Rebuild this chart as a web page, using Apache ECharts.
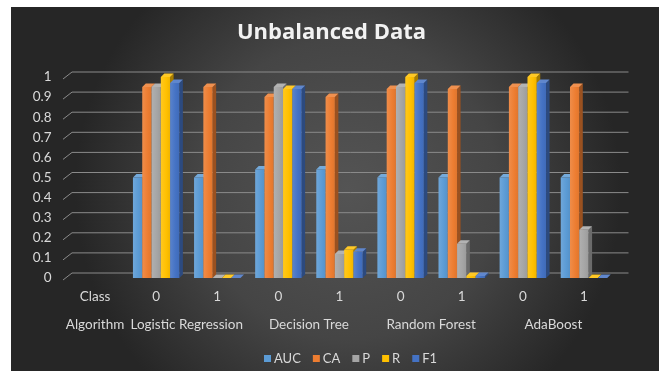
<!DOCTYPE html>
<html>
<head>
<meta charset="utf-8">
<script src="https://cdn.jsdelivr.net/npm/echarts@6/dist/echarts.min.js"></script>
<style>
  html, body { margin: 0; padding: 0; background: #ffffff; }
  #chart { width: 663px; height: 374px; }
</style>
</head>
<body>
<div id="chart"></div>
<script>
// Category rows of the axis
const classLabels = ['Class', '0', '1', '0', '1', '0', '1', '0', '1'];
const algorithmLabels = ['Algorithm', 'Logistic Regression', 'Decision Tree', 'Random Forest', 'AdaBoost'];

// Metric values per category (first slot is the header column, no bars)
const seriesNames = ['AUC', 'CA', 'P', 'R', 'F1'];
const aucValues = [null, 0.50, 0.50, 0.54, 0.54, 0.50, 0.50, 0.50, 0.50];
const caValues  = [null, 0.95, 0.95, 0.90, 0.90, 0.94, 0.94, 0.95, 0.95];
const pValues   = [null, 0.95, 0.00, 0.95, 0.12, 0.95, 0.17, 0.95, 0.24];
const rValues   = [null, 1.00, 0.00, 0.94, 0.14, 1.00, 0.01, 1.00, 0.00];
const f1Values  = [null, 0.97, 0.00, 0.94, 0.13, 0.97, 0.01, 0.97, 0.00];

// Value axis ticks
const yTicks = [0, 0.1, 0.2, 0.3, 0.4, 0.5, 0.6, 0.7, 0.8, 0.9, 1];

const seriesValues = [aucValues, caValues, pValues, rValues, f1Values];
const colors = ['#5B9BD5', '#ED7D31', '#A5A5A5', '#FFC000', '#4472C4'];
const FONT = 'Lato, "Open Sans", sans-serif';

function shade(hex, k) {
  const n = parseInt(hex.slice(1), 16);
  let r = (n >> 16) & 255, g = (n >> 8) & 255, b = n & 255;
  if (k >= 0) { r += (255 - r) * k; g += (255 - g) * k; b += (255 - b) * k; }
  else { r *= (1 + k); g *= (1 + k); b *= (1 + k); }
  return 'rgb(' + Math.round(r) + ',' + Math.round(g) + ',' + Math.round(b) + ')';
}

// A pseudo-3D column: front face, right side face and top face
function barRenderer(s) {
  const base = colors[s];
  return function (params, api) {
    const v = api.value(1);
    if (v == null || isNaN(v)) return null;
    const cat = api.value(0);
    const p0 = api.coord([cat, 0]);
    const p1 = api.coord([cat, v]);
    const band = api.size([1, 0])[0];
    const w = band * 0.152;
    const x0 = p0[0] - 2.5 * w + s * w;
    const d = 3.5;
    const yb = p0[1], yt = p1[1];
    return {
      type: 'group',
      children: [
        {
          type: 'polygon',
          shape: { points: [[x0 + w, yt], [x0 + w + d, yt - d], [x0 + w + d, yb - d], [x0 + w, yb]] },
          style: { fill: shade(base, -0.35) }
        },
        {
          type: 'rect',
          shape: { x: x0, y: yt, width: w, height: Math.max(0, yb - yt) },
          style: {
            fill: new echarts.graphic.LinearGradient(0, 0, 1, 0, [
              { offset: 0, color: shade(base, 0.12) },
              { offset: 0.6, color: base },
              { offset: 1, color: shade(base, -0.06) }
            ])
          }
        },
        {
          type: 'polygon',
          shape: { points: [[x0, yt], [x0 + d, yt - d], [x0 + w + d, yt - d], [x0 + w, yt]] },
          style: { fill: shade(base, 0.15) }
        }
      ]
    };
  };
}

// Back-wall gridlines with the receding stub on the left
function gridRenderer(params, api) {
  const v = api.value(0);
  const band = api.size([1, 0])[0];
  const pl = api.coord([0, v]);
  const pr = api.coord([classLabels.length - 1, v]);
  const left = pl[0] - band / 2;
  const right = pr[0] + band / 2;
  const y = pl[1];
  return {
    type: 'polyline',
    shape: { points: [[left - 1.5, y + 2], [left + 7.5, y - 5], [right + 14, y - 5]] },
    style: { stroke: '#8a8a8a', lineWidth: 1, fill: null }
  };
}

const algorithmPos = { '-0.5': '', '0': 'Algorithm', '1.5': algorithmLabels[1], '3.5': algorithmLabels[2], '5.5': algorithmLabels[3], '7.5': algorithmLabels[4] };

const chart = echarts.init(document.getElementById('chart'), null, { renderer: 'canvas' });

const series = [{
  type: 'custom',
  name: 'grid',
  xAxisIndex: 0,
  yAxisIndex: 0,
  z: 1,
  silent: true,
  renderItem: gridRenderer,
  data: yTicks.map(t => [t]),
  encode: { y: 0 }
}];
seriesValues.forEach((vals, s) => {
  series.push({
    type: 'custom',
    name: seriesNames[s],
    xAxisIndex: 0,
    yAxisIndex: 0,
    z: 2,
    itemStyle: { color: colors[s] },
    renderItem: barRenderer(s),
    encode: { x: 0, y: 1 },
    data: vals.map((v, i) => [i, v == null ? NaN : v])
  });
});

chart.setOption({
  backgroundColor: '#ffffff',
  animation: false,
  graphic: [{
    type: 'rect',
    z: -10,
    left: 11, top: 7,
    shape: { width: 648, height: 364 },
    style: {
      fill: new echarts.graphic.RadialGradient(0.52, 0.5, 0.75, [
        { offset: 0, color: '#545454' },
        { offset: 0.55, color: '#454545' },
        { offset: 1, color: '#262626' }
      ])
    }
  }],
  title: {
    text: 'Unbalanced Data',
    left: 'center',
    top: 17,
    textStyle: { color: '#f2f2f2', fontSize: 22, fontWeight: 'bold', fontFamily: '"Open Sans", Lato, sans-serif' }
  },
  legend: {
    data: seriesNames,
    top: 347,
    left: 259,
    icon: 'rect',
    itemWidth: 7,
    itemHeight: 7,
    itemGap: 12,
    textStyle: { color: '#d9d9d9', fontSize: 13, fontFamily: FONT, padding: [0, 0, 0, -2] }
  },
  grid: { left: 64.5, right: 48.5, top: 77, bottom: 96, containLabel: false },
  xAxis: [{
    type: 'category',
    data: classLabels,
    position: 'bottom',
    axisLine: { show: false },
    axisTick: { show: false },
    splitLine: { show: false },
    axisLabel: { color: '#d9d9d9', fontSize: 13.5, fontFamily: FONT, margin: 12, interval: 0 }
  }, {
    type: 'value',
    min: -0.5,
    max: 8.5,
    interval: 0.5,
    position: 'bottom',
    offset: 28,
    axisLine: { show: false },
    axisTick: { show: false },
    splitLine: { show: false },
    axisLabel: {
      color: '#d9d9d9', fontSize: 13.5, fontFamily: FONT, margin: 12,
      formatter: v => algorithmPos[String(v)] || ''
    }
  }],
  yAxis: {
    type: 'value',
    min: 0,
    max: 1,
    interval: 0.1,
    axisLine: { show: false },
    axisTick: { show: false },
    splitLine: { show: false },
    axisLabel: {
      color: '#d9d9d9', fontSize: 13.5, fontFamily: FONT, margin: 13,
      padding: [4, 0, 0, 0],
      formatter: v => String(Math.round(v * 10) / 10)
    }
  },
  series: series
});
</script>
</body>
</html>
